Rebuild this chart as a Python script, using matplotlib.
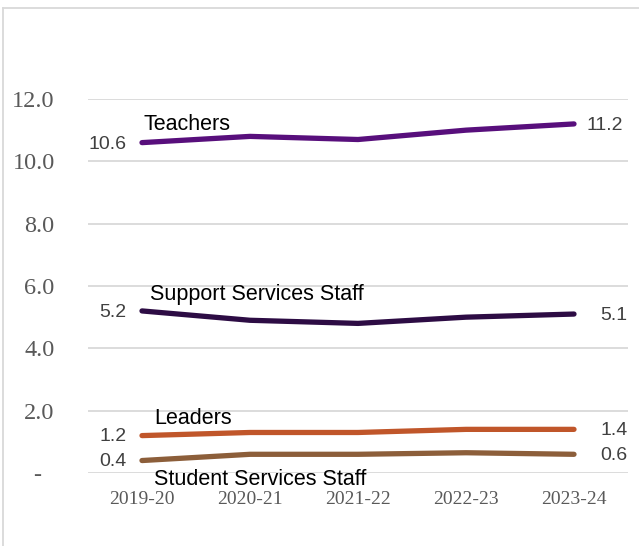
import matplotlib.pyplot as plt
from matplotlib.lines import Line2D

# Staff per school by year
years = ["2019-20", "2020-21", "2021-22", "2022-23", "2023-24"]
teachers = [10.6, 10.8, 10.7, 11.0, 11.2]
support = [5.2, 4.9, 4.8, 5.0, 5.1]
leaders = [1.2, 1.3, 1.3, 1.4, 1.4]
student_services = [0.4, 0.6, 0.6, 0.65, 0.6]

names = ["Teachers", "Support Services Staff", "Leaders", "Student Services Staff"]
colors = ["#580F7C", "#2D0C44", "#C0562A", "#8C5E3A"]

yticks = [0, 2, 4, 6, 8, 10, 12]
ytick_labels = ["-  ", "2.0", "4.0", "6.0", "8.0", "10.0", "12.0"]

fig = plt.figure(figsize=(6.39, 5.46), dpi=100)
ax = fig.add_axes([0.1377, 0.1337, 0.8451, 0.685])

series = [teachers, support, leaders, student_services]
x = list(range(len(years)))
for vals, col in zip(series, colors):
    ax.plot(x, vals, color=col, lw=3.8, solid_capstyle="round", zorder=3)

ax.set_xlim(-0.5, len(years) - 0.5)
ax.set_ylim(0, 12)
ax.set_xticks(x)
ax.set_xticklabels(years, family="Liberation Serif", fontsize=14, color="#595959")
ax.set_yticks(yticks)
ax.set_yticklabels(ytick_labels, family="Liberation Serif", fontsize=17.5, color="#595959")
ax.tick_params(axis="x", length=0, pad=13)
ax.tick_params(axis="y", length=0, pad=24)
ax.grid(axis="y", color="#D9D9D9", lw=1.3)
ax.set_axisbelow(True)
for s in ax.spines.values():
    s.set_visible(False)

# value labels at both ends
val_font = dict(family="Liberation Sans", fontsize=14, color="#404040", va="center")
right_offsets = [12, 26, 26, 26]
for vals, roff in zip(series, right_offsets):
    ax.annotate(f"{vals[0]:.1f}", (0, vals[0]), xytext=(-11, -1),
                textcoords="offset points", ha="right", **val_font)
    ax.annotate(f"{vals[-1]:.1f}", (4, vals[-1]), xytext=(roff * 0.72, -1),
                textcoords="offset points", ha="left", **val_font)

# series name labels
name_font = dict(family="Liberation Sans", fontsize=15.5, color="black", va="center")
name_offsets = [(1, 13), (6, 12), (9, 12), (9, -14)]
name_anchor = [teachers[0], support[0], leaders[0], student_services[0]]
for name, yv, (dx, dy) in zip(names, name_anchor, name_offsets):
    ax.annotate(name, (0, yv), xytext=(dx, dy), textcoords="offset points",
                ha="left", **name_font)

# chart frame (top and left edges)
fig.add_artist(Line2D([3 / 639, 1], [1 - 8 / 546, 1 - 8 / 546],
                      transform=fig.transFigure, color="#D9D9D9", lw=1.3))
fig.add_artist(Line2D([3 / 639, 3 / 639], [0, 1 - 8 / 546],
                      transform=fig.transFigure, color="#D9D9D9", lw=1.3))

fig.savefig("out.png", dpi=100)
